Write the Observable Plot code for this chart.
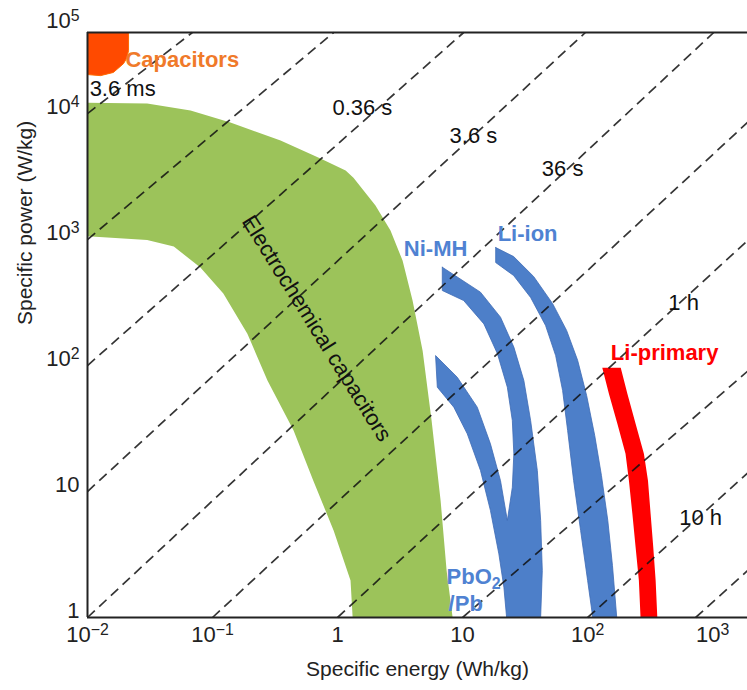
<!DOCTYPE html>
<html><head><meta charset="utf-8">
<script src="https://cdn.jsdelivr.net/npm/d3@7"></script>
<script src="https://cdn.jsdelivr.net/npm/@observablehq/plot@0.6"></script>
<style>body{margin:0;background:#fff}</style>
</head><body><div id="chart"></div>
<script>
// ---- axes ----
const xMin = 0.01, xMax = 1900;
const yMin = 1, yMax = 44000;
const xTicks = [0.01, 0.1, 1, 10, 100, 1000];
const xTickLabels = ["10^\u22122", "10^\u22121", "1", "10", "10^2", "10^3"];
const yTicks = [1, 10, 100, 1000, 10000];
const yTickLabels = ["1", "10", "10^2", "10^3", "10^4"];
const yTopLabel = "10^5";
const yTopLabelP = 54700;
const xTitle = "Specific energy (Wh/kg)";
const yTitle = "Specific power (W/kg)";

// ---- regions (specific energy Wh/kg, specific power W/kg) ----
const capE = [0.01, 0.0213, 0.0213, 0.0206, 0.0194, 0.0161, 0.0127, 0.01];
const capP = [44000, 44000, 31600, 27500, 24900, 21200, 20000, 20400];

const ecE = [0.01, 0.030, 0.0667, 0.139, 0.35, 0.73, 1.16, 1.34, 2.01, 2.65, 3.31, 3.98, 4.79, 5.65, 6.67, 7.45, 8.32,
             1.32, 1.27, 0.93, 0.64, 0.445, 0.275, 0.19, 0.122, 0.080, 0.049, 0.030, 0.01];
const ecP = [12200, 12000, 10600, 8490, 6100, 4400, 3530, 3100, 1860, 1180, 681, 328, 131, 36.6, 8.48, 2.36, 1,
             1, 1.97, 4.9, 12.2, 30.5, 76, 179, 373, 600, 880, 990, 1060];

const nimhE = [6.88, 13.9, 20.1, 25.7, 30.9, 35.0, 39.6, 42.1, 43.4, 42.1, 22.5, 21.4, 19.5, 16.7, 13.9, 10.9, 8.51, 6.28, 6.08,
               9.07, 13.1, 16.7, 20.1, 22.8, 25.0, 25.7, 25.0, 22.8, 19.0, 14.8, 10.2, 6.88, 6.88];
const nimhP = [603, 382, 242, 140, 76, 36.6, 14.7, 5.89, 2.36, 1, 1, 1.74, 3.2, 7.07, 14.7, 28.7, 46.7, 67.3, 120,
               80.7, 46.7, 23.9, 12.2, 5.89, 10.8, 19.9, 36.6, 67.3, 124, 214, 328, 394, 603];

const liionE = [18.4, 25.6, 37.0, 52.5, 67.9, 83.2, 98.2, 114, 129, 145, 158, 171,
                110, 100, 87.9, 77.3, 69.2, 63.1, 55.5, 46.1, 35.0, 25.6, 18.4, 18.4];
const liionP = [864, 733, 509, 310, 190, 110, 57.8, 27.8, 13.4, 5.89, 2.59, 1,
                1, 1.97, 4.9, 12.2, 30.5, 63.3, 120, 208, 347, 518, 657, 864];

const liprimE = [131, 184, 208, 242, 282, 304, 319, 335, 350, 361, 265, 257, 242, 228, 214, 201, 173, 148, 131];
const liprimP = [95.9, 95.9, 59.6, 34.5, 19.9, 12.2, 6.65, 3.61, 1.97, 1, 1, 1.97, 3.61, 6.65, 12.2, 19.9, 34.5, 59.6, 95.9];

// ---- discharge-time guide lines ----
const guideE1 = [0.01, 0.01, 0.01, 0.01, 0.01, 0.1, 1, 10, 100, 731];
const guideP1 = [10000, 1000, 100, 10, 1, 1, 1, 1, 1, 1];
const guideE2 = [0.069, 0.93, 10.2, 96, 1020, 1900, 1900, 1900, 1900, 1900];
const guideP2 = [44000, 44000, 44000, 44000, 44000, 8500, 980, 90, 14, 2.35];

// ---- annotations ----
const msLabel = "3.6 ms";
const msLabelE = 0.0104, msLabelP = 15800;
const timeLabels = ["0.36 s", "3.6 s", "36 s", "1 h", "10 h"];
const timeLabelE = [1.58, 12.2, 63.1, 586, 802];
const timeLabelP = [11000, 6690, 3660, 316, 6.2];

const blueLabels = ["Ni-MH", "Li-ion"];
const blueLabelE = [6.08, 33.1];
const blueLabelP = [849, 1116];
const pbLabels = ["PbO_2", "/Pb"];
const pbLabelE = [7.45, 7.73];
const pbLabelP = [2.08, 1.27];

const toRows = (E, P) => E.map((e, i) => ({e, p: P[i]}));
const guides = guideE1.map((e, i) => ({e1: e, p1: guideP1[i], e2: guideE2[i], p2: guideP2[i]}));
const tl = timeLabels.map((t, i) => ({t, e: timeLabelE[i], p: timeLabelP[i]}));

const green = "#9cc35a", blue = "#4d7fc9", red = "#ff0000", orange = "#ff4a00";
const blueText = "#4f82d2";

const plot = Plot.plot({
  width: 747, height: 690,
  marginLeft: 87, marginRight: 0, marginTop: 32, marginBottom: 73,
  style: {fontFamily: "'Liberation Sans', Arial, Helvetica, sans-serif", fontSize: "22px", background: "#fff", color: "#222", overflow: "visible"},
  x: {type: "log", domain: [xMin, xMax]},
  y: {type: "log", domain: [yMin, yMax]},
  marks: [
    Plot.line(toRows(capE, capP), {x: "e", y: "p", fill: orange, stroke: "#ff6a00", strokeWidth: 1}),
    Plot.line(toRows(ecE, ecP), {x: "e", y: "p", fill: green, stroke: "none"}),
    Plot.line(toRows(nimhE, nimhP), {x: "e", y: "p", fill: blue, stroke: "#3d6bb5", strokeWidth: 0.8}),
    Plot.line(toRows(liionE, liionP), {x: "e", y: "p", fill: blue, stroke: "#3d6bb5", strokeWidth: 0.8}),
    Plot.line(toRows(liprimE, liprimP), {x: "e", y: "p", fill: red, stroke: "none"}),
    Plot.link(guides, {x1: "e1", y1: "p1", x2: "e2", y2: "p2", stroke: "#111", strokeWidth: 1.7, strokeDasharray: "10,6", strokeOpacity: 0.85}),
    Plot.ruleX([xMin], {stroke: "#222", strokeWidth: 2}),
    Plot.ruleY([yMin], {stroke: "#222", strokeWidth: 2}),
    Plot.ruleY([yMax], {stroke: "#222", strokeWidth: 2}),
    Plot.axisX({ticks: xTicks, tickFormat: d => xTickLabels[xTicks.indexOf(d)], tickSize: 0, tickPadding: 9, label: null}),
    Plot.axisY({ticks: yTicks, tickFormat: d => yTickLabels[yTicks.indexOf(d)], tickSize: 0, tickPadding: 8, dy: -7, label: null}),
    Plot.text([yTopLabel], {x: xMin, y: yTopLabelP, text: d => d, textAnchor: "end", dx: -8}),
    Plot.text([xTitle], {frameAnchor: "bottom", dy: 58, text: d => d, fontSize: 21}),
    Plot.text([yTitle], {frameAnchor: "left", dx: -62, rotate: -90, text: d => d, fontSize: 21}),
    Plot.text([msLabel], {x: msLabelE, y: msLabelP, text: d => d, textAnchor: "start", fontSize: 22, fill: "#111"}),
    Plot.text(tl, {x: "e", y: "p", text: "t", fontSize: 22, fill: "#111"}),
    Plot.text(["Capacitors"], {x: 0.0201, y: 26400, text: d => d, textAnchor: "start", fontSize: 22, fontWeight: "bold", fill: "#f07a2a"}),
    Plot.text(["Electrochemical capacitors"], {x: 0.68, y: 197, text: d => d, rotate: 58, fontSize: 22, fill: "#111"}),
    Plot.text(blueLabels, {x: (d, i) => blueLabelE[i], y: (d, i) => blueLabelP[i], text: d => d, fontSize: 22, fontWeight: "bold", fill: blueText}),
    Plot.text(pbLabels, {x: (d, i) => pbLabelE[i], y: (d, i) => pbLabelP[i], text: d => d, textAnchor: "start", fontSize: 22, fontWeight: "bold", fill: blueText}),
    Plot.text(["Li-primary"], {x: 413, y: 127, text: d => d, fontSize: 22, fontWeight: "bold", fill: red})
  ]
});

// superscripts / subscripts as real tspans
const ns = "http://www.w3.org/2000/svg";
for (const t of plot.querySelectorAll("text")) {
  const s = t.textContent;
  const m = s.match(/^(.*?)([\^_])(.+)$/);
  if (m && t.children.length === 0) {
    t.textContent = "";
    t.appendChild(document.createTextNode(m[1]));
    const ts = document.createElementNS(ns, "tspan");
    ts.setAttribute("dy", m[2] === "^" ? "-0.42em" : "0.3em");
    ts.setAttribute("font-size", "0.72em");
    ts.textContent = m[3];
    t.appendChild(ts);
  }
}
document.getElementById("chart").appendChild(plot);
</script>
</body></html>
